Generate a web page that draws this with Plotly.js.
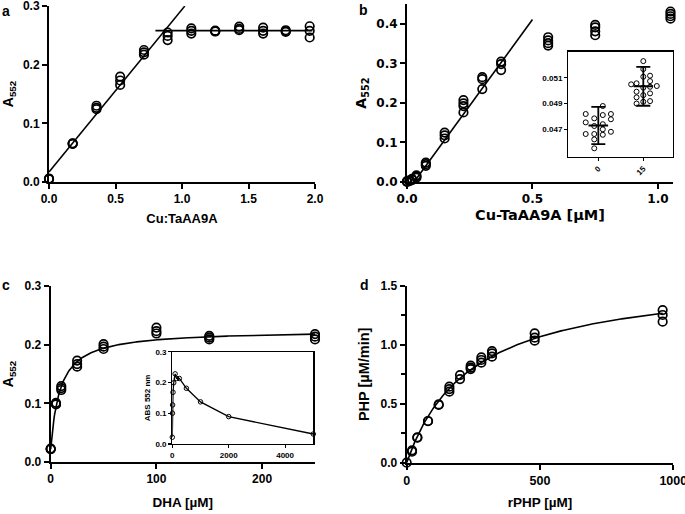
<!DOCTYPE html>
<html><head><meta charset="utf-8">
<script src="https://cdn.plot.ly/plotly-3.0.1.min.js"></script>
<style>body{margin:0;padding:0;background:#fff}#chart{width:685px;height:514px}</style>
</head><body><div id="chart"></div>
<script>
// ---------- Panel a: Cu:TaAA9A titration ----------
const aX = [0,0,0, 0.178,0.178,0.178, 0.357,0.357,0.357, 0.535,0.535,0.535, 0.714,0.714,0.714, 0.892,0.892,0.892,
            1.07,1.07,1.07, 1.25,1.25,1.25, 1.43,1.43,1.43, 1.61,1.61,1.61, 1.78,1.78,1.78, 1.96,1.96,1.96];
const aY = [0.005,0.006,0.005, 0.0655,0.066,0.065, 0.130,0.1265,0.124, 0.1797,0.173,0.1655, 0.225,0.221,0.217, 0.2548,0.249,0.242,
            0.262,0.2576,0.253, 0.257,0.258,0.2565, 0.265,0.261,0.2587, 0.263,0.2576,0.253, 0.2587,0.256,0.257, 0.2655,0.2576,0.2463];
const aRiseFit = {slope: 0.277, intercept: 0.017, xFrom: 0, xTo: 1.021};
const aPlateauFit = {level: 0.258, xFrom: 0.80, xTo: 1.98};

// ---------- Panel b: Cu-TaAA9A concentration ----------
const bX = [0,0,0, 0.01,0.01, 0.02,0.02, 0.0375,0.0375,0.0375, 0.075,0.075,0.075, 0.15,0.15,0.15, 0.225,0.225,0.225,0.225,
            0.30,0.30,0.30, 0.375,0.375,0.375, 0.5625,0.5625,0.5625,0.5625, 0.75,0.75,0.75,0.75, 1.05,1.05,1.05,1.05];
const bY = [0,0.001,0.002, 0.002,0.004, 0.005,0.008, 0.011,0.017,0.014, 0.049,0.045,0.041, 0.125,0.118,0.110, 0.207,0.199,0.192,0.176,
            0.265,0.260,0.235, 0.3045,0.298,0.283, 0.366,0.358,0.351,0.345, 0.397,0.391,0.381,0.371, 0.431,0.425,0.419,0.413];
const bLinFit = {slope: 0.87, xIntercept: 0.028, xTo: 0.5};

// Inset b: two groups (0 and 15) with jitter offsets
const insetCats = ['0', '15'];
const ib0Y = [0.04881, 0.04819, 0.04785, 0.04811, 0.04819, 0.04778, 0.04754, 0.04726, 0.0474, 0.047, 0.04681, 0.04664, 0.04664, 0.04658, 0.04622, 0.04553];
const ib0Jitter = [0.1, -0.28, -0.09, 0.1, 0.28, 0.28, -0.28, -0.09, 0.1, 0.1, 0.28, -0.28, -0.09, 0.1, -0.09, -0.09];
const ib15Y = [0.05049, 0.05057, 0.04992, 0.04948, 0.049, 0.05229, 0.05167, 0.05108, 0.05023, 0.04965, 0.04914, 0.05116, 0.05074, 0.0503, 0.04979, 0.04919, 0.05036];
const ib15Jitter = [-0.27, -0.15, -0.15, -0.15, -0.15, 0, 0, 0, 0, 0, 0, 0.15, 0.15, 0.15, 0.15, 0.15, 0.3];
const ibMean = [0.0473, 0.05034];
const ibSD = [0.00145, 0.00151];

// ---------- Panel c: DHA ----------
const cX = [0,0,0, 5,5,5, 10,10,10, 25,25,25, 50,50,50, 100,100,100, 150,150,150, 250,250,250];
const cY = [0.022,0.023,0.022, 0.101,0.099,0.098, 0.1295,0.126,0.1227, 0.1727,0.167,0.1625, 0.201,0.1966,0.1926,
            0.229,0.223,0.219, 0.215,0.212,0.209, 0.218,0.2136,0.209];
const cFit = {y0: 0.022, vmax: 0.203, k: 9, xTo: 250};
// Inset c: extended DHA range
const icX = [0, 5, 10, 25, 50, 100, 150, 250, 500, 1000, 2000, 5000];
const icY = [0.022, 0.100, 0.127, 0.168, 0.199, 0.228, 0.213, 0.213, 0.181, 0.137, 0.089, 0.0325];

// ---------- Panel d: rPHP ----------
const dX = [0, 20,20, 40,40, 80,80, 120,120, 160,160,160, 200,200, 240,240,240, 280,280,280, 320,320,320, 480,480,480, 960,960,960];
const dY = [0, 0.105,0.093, 0.212,0.215, 0.354,0.352, 0.495,0.490, 0.645,0.625,0.603, 0.744,0.710, 0.824,0.807,0.795,
            0.894,0.872,0.849, 0.948,0.928,0.900, 1.098,1.061,1.036, 1.296,1.254,1.197];
const dFit = {vmax: 1.589, km: 243, xTo: 960};

// ---------- helpers ----------
function sampleCurve(x0, x1, n, f) { const xs=[], ys=[]; for (let i=0;i<=n;i++){ const x=x0+(x1-x0)*i/n; xs.push(x); ys.push(f(x)); } return {xs, ys}; }
const FONT = 'Liberation Sans, Arial, Helvetica, sans-serif';
const WIDE = 'DejaVu Sans, Verdana, sans-serif';
const circ = (size, lw) => ({symbol: 'circle-open', size: size, color: 'black', line: {width: lw, color: 'black'}});
const fitLine = {color: 'black', width: 1.6};

const aL1 = sampleCurve(aRiseFit.xFrom, aRiseFit.xTo, 2, x => aRiseFit.intercept + aRiseFit.slope * x);
const aL2 = sampleCurve(aPlateauFit.xFrom, aPlateauFit.xTo, 2, x => aPlateauFit.level);
const bL = sampleCurve(bLinFit.xIntercept, bLinFit.xTo, 2, x => bLinFit.slope * (x - bLinFit.xIntercept));
const cC = sampleCurve(0, cFit.xTo, 400, x => cFit.y0 + cFit.vmax * x / (cFit.k + x));
const dC = sampleCurve(0, dFit.xTo, 300, x => dFit.vmax * x / (dFit.km + x));

const traces = [
  {x: aL1.xs, y: aL1.ys, mode: 'lines', line: fitLine, xaxis: 'x', yaxis: 'y', cliponaxis: false},
  {x: aL2.xs, y: aL2.ys, mode: 'lines', line: fitLine, xaxis: 'x', yaxis: 'y', cliponaxis: false},
  {x: aX, y: aY, mode: 'markers', marker: circ(8.5, 1.7), xaxis: 'x', yaxis: 'y', cliponaxis: false},

  {x: bL.xs, y: bL.ys, mode: 'lines', line: fitLine, xaxis: 'x2', yaxis: 'y2', cliponaxis: false},
  {x: bX, y: bY, mode: 'markers', marker: circ(8.5, 1.7), xaxis: 'x2', yaxis: 'y2', cliponaxis: false},

  {x: cC.xs, y: cC.ys, mode: 'lines', line: fitLine, xaxis: 'x3', yaxis: 'y3', cliponaxis: false},
  {x: cX, y: cY, mode: 'markers', marker: circ(8.5, 1.7), xaxis: 'x3', yaxis: 'y3', cliponaxis: false},

  {x: dC.xs, y: dC.ys, mode: 'lines', line: fitLine, xaxis: 'x4', yaxis: 'y4', cliponaxis: false},
  {x: dX, y: dY, mode: 'markers', marker: circ(8.5, 1.7), xaxis: 'x4', yaxis: 'y4', cliponaxis: false},

  {x: ib0Jitter.map(j => 0 + j), y: ib0Y, mode: 'markers', marker: circ(5, 1), xaxis: 'x5', yaxis: 'y5'},
  {x: ib15Jitter.map(j => 1 + j), y: ib15Y, mode: 'markers', marker: circ(5, 1), xaxis: 'x5', yaxis: 'y5'},
  {x: [0, 1], y: ibMean, mode: 'markers', marker: {symbol: 'line-ew-open', size: 14, color: 'black', line: {width: 2, color: 'black'}},
   error_y: {type: 'data', array: ibSD, visible: true, color: 'black', thickness: 1.8, width: 7}, xaxis: 'x5', yaxis: 'y5'},

  {x: icX, y: icY, mode: 'lines+markers', line: {color: 'black', width: 1.3}, marker: circ(4.5, 1), xaxis: 'x6', yaxis: 'y6', cliponaxis: false}
];

const W = 685, H = 514;
const dx = (a, b) => [a / W, b / W];
const dy = (top, bottom) => [1 - bottom / H, 1 - top / H];
const F = (family, size) => ({family: family, size: size, color: 'black', weight: 'bold'});
function ax(extra) {
  return Object.assign({showline: true, linecolor: 'black', linewidth: 2, ticks: 'outside', ticklen: 5, tickwidth: 2, tickcolor: 'black',
    showgrid: false, zeroline: false, tickfont: F(FONT, 12), fixedrange: true, ticklabeloverflow: 'allow'}, extra);
}

const layout = {
  width: W, height: H, margin: {l: 0, r: 0, t: 0, b: 0}, showlegend: false,
  paper_bgcolor: 'white', plot_bgcolor: 'white',
  xaxis: ax({domain: dx(49, 315), range: [0, 2], dtick: 0.5, tickformat: '.1f', anchor: 'y',
    title: {text: 'Cu:TaAA9A', font: F(FONT, 13), standoff: 8}}),
  yaxis: ax({domain: dy(6, 182), range: [0, 0.3], dtick: 0.1, tickformat: '.1f', anchor: 'x',
    title: {text: 'A<sub>552</sub>', font: F(FONT, 14), standoff: 8}}),
  xaxis2: ax({domain: dx(407, 673), range: [0, 1.06], tickvals: [0, 0.5, 1.0], tickformat: '.1f', anchor: 'y2',
    tickfont: F(WIDE, 12), title: {text: 'Cu-TaAA9A [µM]', font: F(WIDE, 14.5), standoff: 4}}),
  yaxis2: ax({domain: dy(4, 182), range: [0, 0.45], tickvals: [0, 0.1, 0.2, 0.3, 0.4], tickformat: '.1f', anchor: 'x2',
    tickfont: F(WIDE, 12), title: {text: 'A<sub>552</sub>', font: F(WIDE, 14), standoff: 6}}),
  xaxis3: ax({domain: dx(50.7, 315), range: [0, 250], tickvals: [0, 100, 200], anchor: 'y3', tickfont: F(FONT, 12),
    title: {text: 'DHA [µM]', font: F(FONT, 13.5), standoff: 12}}),
  yaxis3: ax({domain: dy(286, 462), range: [0, 0.3], dtick: 0.1, tickformat: '.1f', anchor: 'x3', tickfont: F(FONT, 12),
    title: {text: 'A<sub>552</sub>', font: F(FONT, 14), standoff: 8}}),
  xaxis4: ax({domain: dx(406.7, 673.3), range: [0, 1000], tickvals: [0, 500, 1000], anchor: 'y4', tickfont: F(FONT, 12.5),
    title: {text: 'rPHP [µM]', font: F(FONT, 13.5), standoff: 11}}),
  yaxis4: ax({domain: dy(286, 462.7), range: [0, 1.5], dtick: 0.5, tickformat: '.1f', anchor: 'x4',
    minor: {dtick: 0.25, ticks: 'outside', ticklen: 4, tickwidth: 2, tickcolor: 'black'},
    title: {text: 'PHP [µM/min]', font: F(FONT, 14.5), standoff: 8}}),
  xaxis5: ax({domain: dx(568.3, 673), range: [-0.667, 1.66], tickvals: [0, 1], ticktext: insetCats, tickangle: -45,
    mirror: true, linewidth: 1.3, ticklen: 3, tickwidth: 1.3, tickfont: F(FONT, 8), anchor: 'y5'}),
  yaxis5: ax({domain: dy(51.7, 156.7), range: [0.04488, 0.05302], tickvals: [0.047, 0.049, 0.051], tickformat: '.3f',
    mirror: true, linewidth: 1.3, ticklen: 3, tickwidth: 1.3, tickfont: F(FONT, 8), anchor: 'x5'}),
  xaxis6: ax({domain: dx(172.3, 313.3), range: [0, 5000], tickvals: [0, 2000, 4000], mirror: true, linewidth: 1.2,
    ticklen: 3, tickwidth: 1.2, tickfont: F(FONT, 8), anchor: 'y6'}),
  yaxis6: ax({domain: dy(351.7, 444), range: [0, 0.3], tickvals: [0, 0.1, 0.2, 0.3], tickformat: '.1f', mirror: true, linewidth: 1.2,
    ticklen: 3, tickwidth: 1.2, tickfont: F(FONT, 8), anchor: 'x6',
    title: {text: 'ABS 552 nm', font: F(FONT, 8), standoff: 3}}),
  annotations: [
    {text: 'a', x: 0 / W, y: 1 - 11 / H, xref: 'paper', yref: 'paper', xanchor: 'left', yanchor: 'middle', showarrow: false, font: F(FONT, 14)},
    {text: 'b', x: 357 / W, y: 1 - 10 / H, xref: 'paper', yref: 'paper', xanchor: 'left', yanchor: 'middle', showarrow: false, font: F(FONT, 14)},
    {text: 'c', x: 0 / W, y: 1 - 285 / H, xref: 'paper', yref: 'paper', xanchor: 'left', yanchor: 'middle', showarrow: false, font: F(FONT, 14)},
    {text: 'd', x: 358 / W, y: 1 - 285 / H, xref: 'paper', yref: 'paper', xanchor: 'left', yanchor: 'middle', showarrow: false, font: F(FONT, 14)}
  ]
};

Plotly.newPlot('chart', traces, layout, {staticPlot: true, displayModeBar: false});
</script>
</body></html>
